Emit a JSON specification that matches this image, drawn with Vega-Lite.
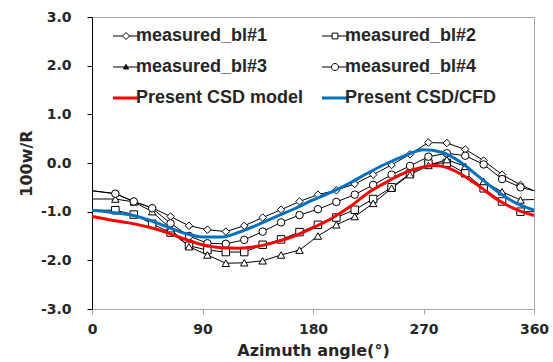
{
  "$schema": "https://vega.github.io/schema/vega-lite/v6.json",
  "width": 442,
  "height": 292,
  "autosize": {"type": "none"},
  "padding": {"left": 92, "top": 17, "right": 19, "bottom": 53},
  "background": "white",
  "datasets": {
    "measured": [
      {"series": "measured_bl#1", "angle": 0, "value": -0.57},
      {"series": "measured_bl#1", "angle": 19, "value": -0.63},
      {"series": "measured_bl#1", "angle": 34, "value": -0.79},
      {"series": "measured_bl#1", "angle": 49, "value": -0.92},
      {"series": "measured_bl#1", "angle": 64, "value": -1.1},
      {"series": "measured_bl#1", "angle": 79, "value": -1.29},
      {"series": "measured_bl#1", "angle": 94, "value": -1.37},
      {"series": "measured_bl#1", "angle": 109, "value": -1.41},
      {"series": "measured_bl#1", "angle": 124, "value": -1.29},
      {"series": "measured_bl#1", "angle": 139, "value": -1.12},
      {"series": "measured_bl#1", "angle": 154, "value": -0.96},
      {"series": "measured_bl#1", "angle": 169, "value": -0.79},
      {"series": "measured_bl#1", "angle": 184, "value": -0.65},
      {"series": "measured_bl#1", "angle": 199, "value": -0.56},
      {"series": "measured_bl#1", "angle": 214, "value": -0.43},
      {"series": "measured_bl#1", "angle": 229, "value": -0.24},
      {"series": "measured_bl#1", "angle": 244, "value": -0.04},
      {"series": "measured_bl#1", "angle": 259, "value": 0.18},
      {"series": "measured_bl#1", "angle": 274, "value": 0.42},
      {"series": "measured_bl#1", "angle": 289, "value": 0.41},
      {"series": "measured_bl#1", "angle": 304, "value": 0.28},
      {"series": "measured_bl#1", "angle": 319, "value": 0.05},
      {"series": "measured_bl#1", "angle": 334, "value": -0.24},
      {"series": "measured_bl#1", "angle": 349, "value": -0.45},
      {"series": "measured_bl#1", "angle": 360, "value": -0.57},

      {"series": "measured_bl#2", "angle": 0, "value": -0.97},
      {"series": "measured_bl#2", "angle": 19, "value": -0.97},
      {"series": "measured_bl#2", "angle": 34, "value": -1.06},
      {"series": "measured_bl#2", "angle": 49, "value": -1.25},
      {"series": "measured_bl#2", "angle": 64, "value": -1.43},
      {"series": "measured_bl#2", "angle": 79, "value": -1.7},
      {"series": "measured_bl#2", "angle": 94, "value": -1.79},
      {"series": "measured_bl#2", "angle": 109, "value": -1.83},
      {"series": "measured_bl#2", "angle": 124, "value": -1.83},
      {"series": "measured_bl#2", "angle": 139, "value": -1.68},
      {"series": "measured_bl#2", "angle": 154, "value": -1.57},
      {"series": "measured_bl#2", "angle": 169, "value": -1.42},
      {"series": "measured_bl#2", "angle": 184, "value": -1.27},
      {"series": "measured_bl#2", "angle": 199, "value": -1.12},
      {"series": "measured_bl#2", "angle": 214, "value": -0.96},
      {"series": "measured_bl#2", "angle": 229, "value": -0.74},
      {"series": "measured_bl#2", "angle": 244, "value": -0.5},
      {"series": "measured_bl#2", "angle": 259, "value": -0.22},
      {"series": "measured_bl#2", "angle": 274, "value": -0.01},
      {"series": "measured_bl#2", "angle": 289, "value": 0.0},
      {"series": "measured_bl#2", "angle": 304, "value": -0.21},
      {"series": "measured_bl#2", "angle": 319, "value": -0.52},
      {"series": "measured_bl#2", "angle": 334, "value": -0.79},
      {"series": "measured_bl#2", "angle": 349, "value": -1.0},
      {"series": "measured_bl#2", "angle": 360, "value": -1.0},

      {"series": "measured_bl#3", "angle": 0, "value": -0.74},
      {"series": "measured_bl#3", "angle": 19, "value": -0.74},
      {"series": "measured_bl#3", "angle": 34, "value": -0.8},
      {"series": "measured_bl#3", "angle": 49, "value": -1.0},
      {"series": "measured_bl#3", "angle": 64, "value": -1.35},
      {"series": "measured_bl#3", "angle": 79, "value": -1.72},
      {"series": "measured_bl#3", "angle": 94, "value": -1.89},
      {"series": "measured_bl#3", "angle": 109, "value": -2.06},
      {"series": "measured_bl#3", "angle": 124, "value": -2.05},
      {"series": "measured_bl#3", "angle": 139, "value": -2.01},
      {"series": "measured_bl#3", "angle": 154, "value": -1.89},
      {"series": "measured_bl#3", "angle": 169, "value": -1.79},
      {"series": "measured_bl#3", "angle": 184, "value": -1.5},
      {"series": "measured_bl#3", "angle": 199, "value": -1.27},
      {"series": "measured_bl#3", "angle": 214, "value": -1.1},
      {"series": "measured_bl#3", "angle": 229, "value": -0.83},
      {"series": "measured_bl#3", "angle": 244, "value": -0.52},
      {"series": "measured_bl#3", "angle": 259, "value": -0.24},
      {"series": "measured_bl#3", "angle": 274, "value": -0.05},
      {"series": "measured_bl#3", "angle": 289, "value": 0.07},
      {"series": "measured_bl#3", "angle": 304, "value": -0.07},
      {"series": "measured_bl#3", "angle": 319, "value": -0.38},
      {"series": "measured_bl#3", "angle": 334, "value": -0.59},
      {"series": "measured_bl#3", "angle": 349, "value": -0.76},
      {"series": "measured_bl#3", "angle": 360, "value": -0.75},

      {"series": "measured_bl#4", "angle": 0, "value": -0.57},
      {"series": "measured_bl#4", "angle": 19, "value": -0.63},
      {"series": "measured_bl#4", "angle": 34, "value": -0.79},
      {"series": "measured_bl#4", "angle": 49, "value": -0.93},
      {"series": "measured_bl#4", "angle": 64, "value": -1.24},
      {"series": "measured_bl#4", "angle": 79, "value": -1.5},
      {"series": "measured_bl#4", "angle": 94, "value": -1.65},
      {"series": "measured_bl#4", "angle": 109, "value": -1.66},
      {"series": "measured_bl#4", "angle": 124, "value": -1.58},
      {"series": "measured_bl#4", "angle": 139, "value": -1.41},
      {"series": "measured_bl#4", "angle": 154, "value": -1.22},
      {"series": "measured_bl#4", "angle": 169, "value": -1.07},
      {"series": "measured_bl#4", "angle": 184, "value": -0.95},
      {"series": "measured_bl#4", "angle": 199, "value": -0.8},
      {"series": "measured_bl#4", "angle": 214, "value": -0.65},
      {"series": "measured_bl#4", "angle": 229, "value": -0.45},
      {"series": "measured_bl#4", "angle": 244, "value": -0.24},
      {"series": "measured_bl#4", "angle": 259, "value": -0.06},
      {"series": "measured_bl#4", "angle": 274, "value": 0.13},
      {"series": "measured_bl#4", "angle": 289, "value": 0.2},
      {"series": "measured_bl#4", "angle": 304, "value": 0.15},
      {"series": "measured_bl#4", "angle": 319, "value": -0.03},
      {"series": "measured_bl#4", "angle": 334, "value": -0.33},
      {"series": "measured_bl#4", "angle": 349, "value": -0.5},
      {"series": "measured_bl#4", "angle": 360, "value": -0.57}
    ],
    "model": [
      {"series": "Present CSD model", "angle": 0, "value": -1.1},
      {"series": "Present CSD model", "angle": 15, "value": -1.17},
      {"series": "Present CSD model", "angle": 30, "value": -1.23},
      {"series": "Present CSD model", "angle": 45, "value": -1.31},
      {"series": "Present CSD model", "angle": 60, "value": -1.42},
      {"series": "Present CSD model", "angle": 75, "value": -1.56},
      {"series": "Present CSD model", "angle": 90, "value": -1.68},
      {"series": "Present CSD model", "angle": 105, "value": -1.74},
      {"series": "Present CSD model", "angle": 120, "value": -1.75},
      {"series": "Present CSD model", "angle": 135, "value": -1.71},
      {"series": "Present CSD model", "angle": 150, "value": -1.62},
      {"series": "Present CSD model", "angle": 165, "value": -1.5},
      {"series": "Present CSD model", "angle": 180, "value": -1.33},
      {"series": "Present CSD model", "angle": 195, "value": -1.14},
      {"series": "Present CSD model", "angle": 210, "value": -0.9},
      {"series": "Present CSD model", "angle": 225, "value": -0.61},
      {"series": "Present CSD model", "angle": 240, "value": -0.39},
      {"series": "Present CSD model", "angle": 255, "value": -0.2},
      {"series": "Present CSD model", "angle": 270, "value": -0.08},
      {"series": "Present CSD model", "angle": 280, "value": -0.05},
      {"series": "Present CSD model", "angle": 290, "value": -0.1},
      {"series": "Present CSD model", "angle": 300, "value": -0.22},
      {"series": "Present CSD model", "angle": 315, "value": -0.47},
      {"series": "Present CSD model", "angle": 330, "value": -0.75},
      {"series": "Present CSD model", "angle": 345, "value": -0.95},
      {"series": "Present CSD model", "angle": 360, "value": -1.08},

      {"series": "Present CSD/CFD", "angle": 0, "value": -0.97},
      {"series": "Present CSD/CFD", "angle": 15, "value": -1.01},
      {"series": "Present CSD/CFD", "angle": 30, "value": -1.06},
      {"series": "Present CSD/CFD", "angle": 45, "value": -1.16},
      {"series": "Present CSD/CFD", "angle": 60, "value": -1.3},
      {"series": "Present CSD/CFD", "angle": 75, "value": -1.44},
      {"series": "Present CSD/CFD", "angle": 90, "value": -1.52},
      {"series": "Present CSD/CFD", "angle": 105, "value": -1.52},
      {"series": "Present CSD/CFD", "angle": 120, "value": -1.42},
      {"series": "Present CSD/CFD", "angle": 135, "value": -1.27},
      {"series": "Present CSD/CFD", "angle": 150, "value": -1.1},
      {"series": "Present CSD/CFD", "angle": 165, "value": -0.94},
      {"series": "Present CSD/CFD", "angle": 180, "value": -0.76},
      {"series": "Present CSD/CFD", "angle": 195, "value": -0.6},
      {"series": "Present CSD/CFD", "angle": 210, "value": -0.41},
      {"series": "Present CSD/CFD", "angle": 225, "value": -0.2},
      {"series": "Present CSD/CFD", "angle": 240, "value": -0.01},
      {"series": "Present CSD/CFD", "angle": 255, "value": 0.15},
      {"series": "Present CSD/CFD", "angle": 270, "value": 0.27},
      {"series": "Present CSD/CFD", "angle": 285, "value": 0.22},
      {"series": "Present CSD/CFD", "angle": 300, "value": 0.02},
      {"series": "Present CSD/CFD", "angle": 315, "value": -0.28},
      {"series": "Present CSD/CFD", "angle": 330, "value": -0.58},
      {"series": "Present CSD/CFD", "angle": 345, "value": -0.82},
      {"series": "Present CSD/CFD", "angle": 360, "value": -0.97}
    ]
  },
  "layer": [
    {
      "data": {"name": "measured"},
      "mark": {"type": "line", "strokeWidth": 1, "interpolate": "linear"},
      "encoding": {
        "x": {"field": "angle", "type": "quantitative", "scale": {"domain": [0, 360], "nice": false},
          "axis": {"values": [0, 90, 180, 270, 360], "title": "Azimuth angle(°)", "domainColor": "#a6a6a6", "tickColor": "#a6a6a6", "tickSize": 5, "labelPadding": 8, "titlePadding": 6, "labelFlush": false}},
        "y": {"field": "value", "type": "quantitative", "scale": {"domain": [-3, 3], "nice": false},
          "axis": {"values": [-3, -2, -1, 0, 1, 2, 3], "format": ".1f", "labelExpr": "replace(datum.label, '\u2212', '-')", "title": "100w/R", "domainColor": "black", "tickColor": "black", "tickSize": 5, "labelPadding": 16, "titlePadding": 6}},
        "stroke": {"field": "series", "type": "nominal",
          "scale": {"domain": ["measured_bl#1", "measured_bl#2", "measured_bl#3", "measured_bl#4", "Present CSD model", "Present CSD/CFD"],
                    "range": ["black", "black", "black", "black", "#ff0000", "#0070c0"]},
          "legend": {"orient": "none", "legendX": 25, "legendY": 10, "columns": 2, "direction": "horizontal", "title": null, "symbolSize": 676,
            "labelFont": "Liberation Sans", "labelFontWeight": "bold", "labelFontSize": 18, "labelColor": "#262626",
            "labelOffset": 1, "rowPadding": 13, "columnPadding": 12, "padding": 0, "labelLimit": 300,
            "encode": {"symbols": {"update": {
              "shape": {"signal": "datum.value === 'measured_bl#1' ? 'M-1,0H-0.27M0.27,0H1M0,-0.27L0.27,0L0,0.27L-0.27,0Z' : datum.value === 'measured_bl#2' ? 'M-1,0H-0.22M0.22,0H1M-0.22,-0.22H0.22V0.22H-0.22Z' : datum.value === 'measured_bl#3' ? 'M-1,0H1M0,-0.2L0.2,0.15H-0.2Z' : datum.value === 'measured_bl#4' ? 'M-1,0H-0.27M0.27,0H1M-0.27,0A0.27,0.27 0 1,0 0.27,0A0.27,0.27 0 1,0 -0.27,0Z' : 'M-1,0H1'"},
              "strokeWidth": {"signal": "indexof(['Present CSD model','Present CSD/CFD'], datum.value) >= 0 ? 3 : 1"},
              "fill": {"signal": "datum.value === 'measured_bl#3' ? 'black' : 'white'"},
              "opacity": {"value": 1}
            }}}
          }
        }
      }
    },
    {
      "data": {"name": "measured"},
      "transform": [{"filter": "datum.angle > 0 && datum.angle < 360"}],
      "mark": {"type": "point", "filled": true, "fill": "white", "strokeWidth": 1, "size": 56, "opacity": 1},
      "encoding": {
        "x": {"field": "angle", "type": "quantitative"},
        "y": {"field": "value", "type": "quantitative"},
        "stroke": {"field": "series", "type": "nominal"},
        "shape": {"field": "series", "type": "nominal",
          "scale": {"domain": ["measured_bl#1", "measured_bl#2", "measured_bl#3", "measured_bl#4"],
                    "range": ["diamond", "square", "triangle-up", "circle"]},
          "legend": null}
      }
    },
    {
      "data": {"name": "model"},
      "mark": {"type": "line", "strokeWidth": 3, "interpolate": "monotone"},
      "encoding": {
        "x": {"field": "angle", "type": "quantitative"},
        "y": {"field": "value", "type": "quantitative"},
        "stroke": {"field": "series", "type": "nominal"}
      }
    }
  ],
  "config": {
    "font": "DejaVu Sans",
    "view": {"stroke": "#a6a6a6", "strokeWidth": 1},
    "axis": {"grid": false, "labelFont": "DejaVu Sans", "labelFontWeight": "bold", "labelFontSize": 14, "labelColor": "#262626",
      "titleFont": "DejaVu Sans", "titleFontWeight": "bold", "titleFontSize": 16, "titleColor": "#262626", "domainWidth": 1, "tickWidth": 1}
  }
}
